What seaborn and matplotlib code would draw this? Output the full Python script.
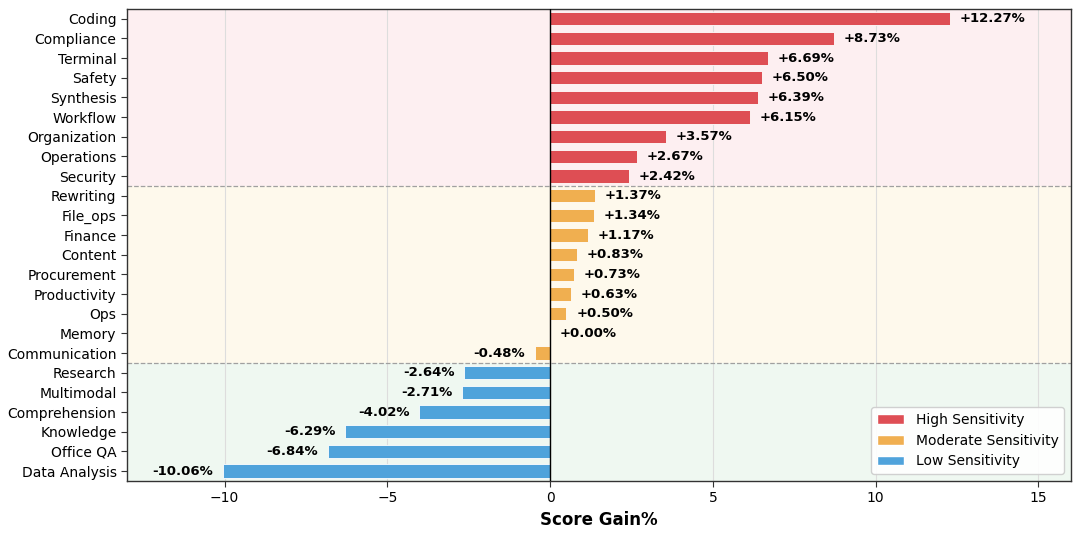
import matplotlib
matplotlib.use("Agg")
import matplotlib.pyplot as plt
import seaborn as sns
import pandas as pd
from matplotlib.patches import Patch

categories = ["Coding", "Compliance", "Terminal", "Safety", "Synthesis", "Workflow",
              "Organization", "Operations", "Security",
              "Rewriting", "File_ops", "Finance", "Content", "Procurement",
              "Productivity", "Ops", "Memory", "Communication",
              "Research", "Multimodal", "Comprehension", "Knowledge", "Office QA",
              "Data Analysis"]
gains = [12.27, 8.73, 6.69, 6.50, 6.39, 6.15, 3.57, 2.67, 2.42,
         1.37, 1.34, 1.17, 0.83, 0.73, 0.63, 0.50, 0.00, -0.48,
         -2.64, -2.71, -4.02, -6.29, -6.84, -10.06]
groups = ["High Sensitivity"] * 9 + ["Moderate Sensitivity"] * 9 + ["Low Sensitivity"] * 6
group_names = ["High Sensitivity", "Moderate Sensitivity", "Low Sensitivity"]
bar_colors = ["#DE4E54", "#F0AF50", "#4FA3DB"]
bg_colors = ["#FDEFF1", "#FEF9EC", "#EFF8F1"]

df = pd.DataFrame({"category": categories, "gain": gains, "group": groups})

sns.set_style("white")
plt.rcParams['font.family'] = ['DejaVu Sans']
plt.rcParams.update({"text.color": "black", "axes.labelcolor": "black",
                     "xtick.color": "black", "ytick.color": "black"})

fig = plt.figure(figsize=(10.8, 5.33), dpi=100)
ax = fig.add_axes([0.1176, 0.0976, 0.874, 0.8856])

# background bands
counts = [groups.count(g) for g in group_names]
start = -0.5
for c, bg in zip(counts, bg_colors):
    ax.axhspan(start, start + c, color=bg, zorder=0, lw=0)
    start += c
start = -0.5
for c in counts[:-1]:
    start += c
    ax.axhline(start, color="#A0A0A0", ls="--", lw=0.9, zorder=1)

sns.barplot(data=df, x="gain", y="category", hue="group", hue_order=group_names,
            palette=bar_colors, saturation=1, dodge=False, orient="h", width=0.68,
            edgecolor="white", linewidth=0.6, ax=ax, legend=False, zorder=3)

ax.axvline(0, color="black", lw=1.0, zorder=4)
ax.set_xlim(-13, 16)
ax.set_ylim(len(categories) - 0.5, -0.5)
ax.set_xticks([-10, -5, 0, 5, 10, 15])
ax.grid(axis="x", color="#DDDDDD", lw=0.8, zorder=1)
ax.set_axisbelow(True)
for s in ax.spines.values():
    s.set_color("#333333")
    s.set_linewidth(1.0)
ax.tick_params(axis="both", labelsize=10, length=4, color="#333333", left=True, bottom=True)
ax.set_ylabel("")
ax.set_xlabel("Score Gain%", fontsize=12, fontweight="bold")

for i, v in enumerate(gains):
    label = f"{v:+.2f}%" if v != 0 else "+0.00%"
    if v >= 0:
        ax.text(v + 0.3, i, label, ha="left", va="center", fontsize=9.5, fontweight="bold", zorder=5)
    else:
        ax.text(v - 0.3, i, label, ha="right", va="center", fontsize=9.5, fontweight="bold", zorder=5)

handles = [Patch(facecolor=c, edgecolor="white", label=n) for c, n in zip(bar_colors, group_names)]
ax.legend(handles=handles, loc="lower right", fontsize=10, frameon=True, framealpha=0.9)

fig.savefig("out.png", dpi=100)
